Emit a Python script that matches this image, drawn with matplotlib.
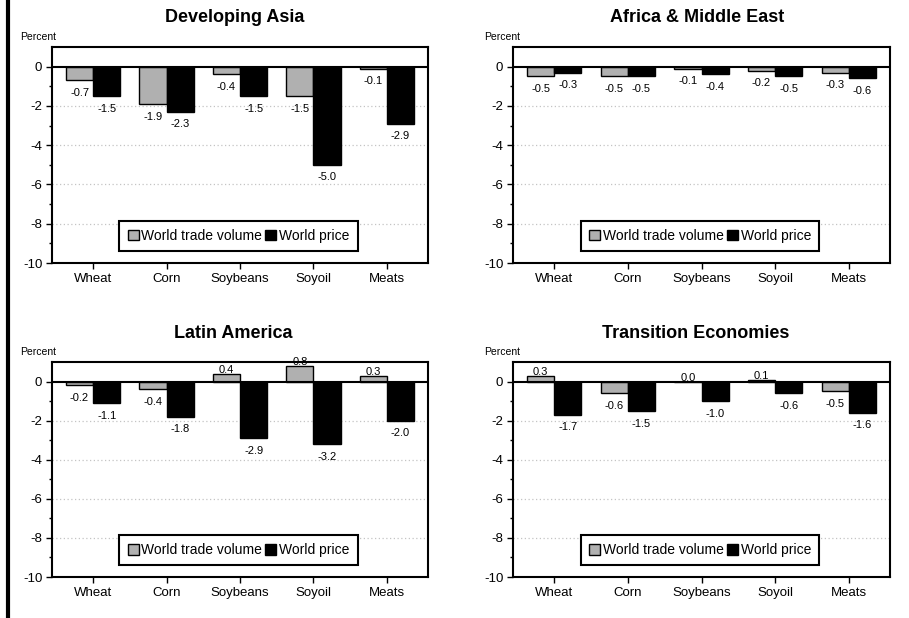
import numpy as np
import matplotlib
matplotlib.use("Agg")
import matplotlib.pyplot as plt
from matplotlib.lines import Line2D

plt.rcParams['font.family'] = ['Liberation Sans', 'DejaVu Sans']

crops = ["Wheat", "Corn", "Soybeans", "Soyoil", "Meats"]

# percent change
asia_volume = [-0.7, -1.9, -0.4, -1.5, -0.1]
asia_price = [-1.5, -2.3, -1.5, -5.0, -2.9]
africa_volume = [-0.5, -0.5, -0.1, -0.2, -0.3]
africa_price = [-0.3, -0.5, -0.4, -0.5, -0.6]
latin_volume = [-0.2, -0.4, 0.4, 0.8, 0.3]
latin_price = [-1.1, -1.8, -2.9, -3.2, -2.0]
trans_volume = [0.3, -0.6, 0.0, 0.1, -0.5]
trans_price = [-1.7, -1.5, -1.0, -0.6, -1.6]

W, H = 909, 618
fig = plt.figure(figsize=(W / 100, H / 100), dpi=100)


def px_axes(left, right, top, bottom):
    return fig.add_axes([left / W, 1 - bottom / H, (right - left) / W, (bottom - top) / H])


def panel(box, title, title_xy, pct_xy, volume, price):
    ax = px_axes(*box)
    x = np.arange(len(crops))
    w = 0.37
    b1 = ax.bar(x - w / 2, volume, w, color='#b0b0b0', edgecolor='black', linewidth=1, zorder=3)
    b2 = ax.bar(x + w / 2, price, w, color='black', edgecolor='black', linewidth=1, zorder=3)
    for bars, vals in ((b1, volume), (b2, price)):
        for r, v in zip(bars, vals):
            cx = r.get_x() + r.get_width() / 2
            if v >= 0:
                ax.annotate(f"{v:.1f}", (cx, v), xytext=(0, -1), textcoords='offset points',
                            ha='center', va='bottom', fontsize=8, zorder=1)
            else:
                ax.annotate(f"{v:.1f}", (cx, v), xytext=(0, -5.5), textcoords='offset points',
                            ha='center', va='top', fontsize=8)
    ax.axhline(0, color='black', lw=1.5, zorder=4)
    ax.set_xlim(-0.56, 4.56)
    ax.set_ylim(-10, 1)
    ax.set_yticks([0, -2, -4, -6, -8, -10])
    ax.set_yticklabels(['0', '-2', '-4', '-6', '-8', '-10'], fontsize=9.5)
    ax.set_yticks([-1, -3, -5, -7, -9], minor=True)
    ax.set_xticks(x)
    ax.set_xticklabels(crops, fontsize=9.5)
    ax.tick_params(axis='both', which='major', length=4, width=1, pad=3)
    ax.tick_params(axis='y', which='minor', length=2, width=1)
    for y in [-2, -4, -6, -8]:
        ax.axhline(y, color='#c4c4c4', lw=0.9, ls=(0, (1, 2)), zorder=0)
    for s in ax.spines.values():
        s.set_linewidth(1.5)
    leg = ax.legend([b1, b2], ["World trade volume", "World price"], ncol=2, loc='center',
                    bbox_to_anchor=(0.496, 0.125), fontsize=10, fancybox=False,
                    edgecolor='black', framealpha=1, handlelength=0.8, handleheight=0.8,
                    handletextpad=0.2, columnspacing=0.2, borderpad=0.6)
    leg.get_frame().set_linewidth(1.5)
    fig.text(title_xy[0] / W, 1 - title_xy[1] / H, title, ha='center', va='center',
             fontsize=13, fontweight='bold')
    fig.text(pct_xy[0] / W, 1 - pct_xy[1] / H, "Percent", ha='left', va='center', fontsize=7.5)
    return ax


panel((52, 428, 47, 263), "Developing Asia", (235, 18), (20, 37), asia_volume, asia_price)
panel((513, 890, 47, 263), "Africa & Middle East", (697, 18), (484, 37), africa_volume, africa_price)
panel((52, 428, 362, 577), "Latin America", (233, 333), (20, 352), latin_volume, latin_price)
panel((513, 890, 362, 577), "Transition Economies", (696, 333), (484, 352), trans_volume, trans_price)

# thick rule down the left side of the page
fig.add_artist(Line2D([8 / W, 8 / W], [0, 1], color='black', lw=3, transform=fig.transFigure))

plt.savefig("out.png", dpi=100)
